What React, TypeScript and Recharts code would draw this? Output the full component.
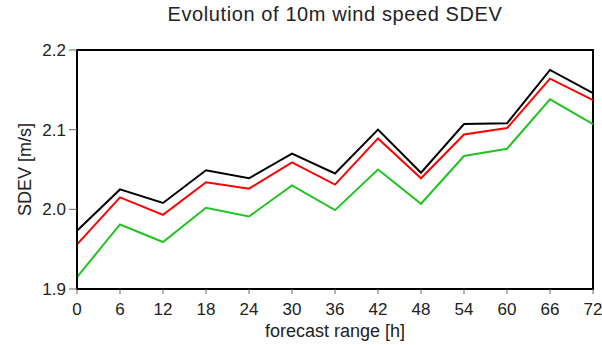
import { LineChart, Line, XAxis, YAxis, ReferenceArea } from "recharts";

const hours = [0, 6, 12, 18, 24, 30, 36, 42, 48, 54, 60, 66, 72];
const blackSeries = [1.973, 2.025, 2.008, 2.049, 2.039, 2.07, 2.045, 2.1, 2.046, 2.107, 2.108, 2.175, 2.146];
const redSeries = [1.956, 2.015, 1.993, 2.034, 2.026, 2.059, 2.031, 2.089, 2.039, 2.094, 2.102, 2.164, 2.137];
const greenSeries = [1.915, 1.981, 1.959, 2.002, 1.991, 2.03, 1.999, 2.05, 2.007, 2.067, 2.076, 2.138, 2.107];
const yTicks = [1.9, 2.0, 2.1, 2.2];

const data = hours.map((h, i) => ({
  h,
  black: blackSeries[i],
  red: redSeries[i],
  green: greenSeries[i],
}));

const font = "'Liberation Sans', Arial, Helvetica, sans-serif";
const tickStyle = { fill: "#222", fontSize: 17, fontFamily: font };

export default function App() {
  return (
    <div style={{ position: "absolute", left: 0, top: 0, width: 602, height: 345, background: "#fff" }}>
      <div
        style={{
          position: "absolute",
          left: 0,
          width: 670,
          top: 3,
          textAlign: "center",
          fontFamily: font,
          fontSize: 20,
          letterSpacing: 0.6,
          color: "#222",
          whiteSpace: "nowrap",
        }}
      >
        Evolution of 10m wind speed SDEV
      </div>
      <LineChart
        width={602}
        height={345}
        data={data}
        margin={{ top: 50, right: 9, left: 0, bottom: 0 }}
      >
        <XAxis
          dataKey="h"
          type="number"
          domain={[0, 72]}
          ticks={hours}
          interval={0}
          height={56}
          axisLine={{ stroke: "#000", strokeWidth: 2 }}
          tickLine={{ stroke: "#666" }}
          tickSize={5}
          tickMargin={9}
          tick={tickStyle}
          label={{
            value: "forecast range [h]",
            position: "insideBottom",
            offset: 8,
            style: { fill: "#222", fontSize: 18, fontFamily: font },
          }}
        />
        <YAxis
          type="number"
          domain={[1.9, 2.2]}
          ticks={yTicks}
          interval={0}
          width={77}
          axisLine={{ stroke: "#000", strokeWidth: 2 }}
          tickLine={{ stroke: "#666" }}
          tickSize={8}
          tickMargin={3}
          tick={tickStyle}
          tickFormatter={(v: number) => v.toFixed(1)}
          label={(props: any) => {
            const vb = props.viewBox || { x: 0, y: 50, width: 77, height: 239 };
            const cx = vb.x + 25;
            const cy = vb.y + vb.height / 2;
            return (
              <text
                x={cx}
                y={cy}
                transform={`rotate(-90, ${cx}, ${cy})`}
                textAnchor="middle"
                dominantBaseline="central"
                fill="#222"
                fontSize={18}
                fontFamily={font}
              >
                SDEV [m/s]
              </text>
            );
          }}
        />
        <ReferenceArea
          x1={0}
          x2={72}
          y1={1.9}
          y2={2.2}
          fill="none"
          stroke="#000"
          strokeWidth={2}
          ifOverflow="visible"
        />
        <Line dataKey="green" stroke="#22c322" strokeWidth={2} dot={false} isAnimationActive={false} />
        <Line dataKey="red" stroke="#ff0000" strokeWidth={2} dot={false} isAnimationActive={false} />
        <Line dataKey="black" stroke="#000000" strokeWidth={2} dot={false} isAnimationActive={false} />
      </LineChart>
    </div>
  );
}
